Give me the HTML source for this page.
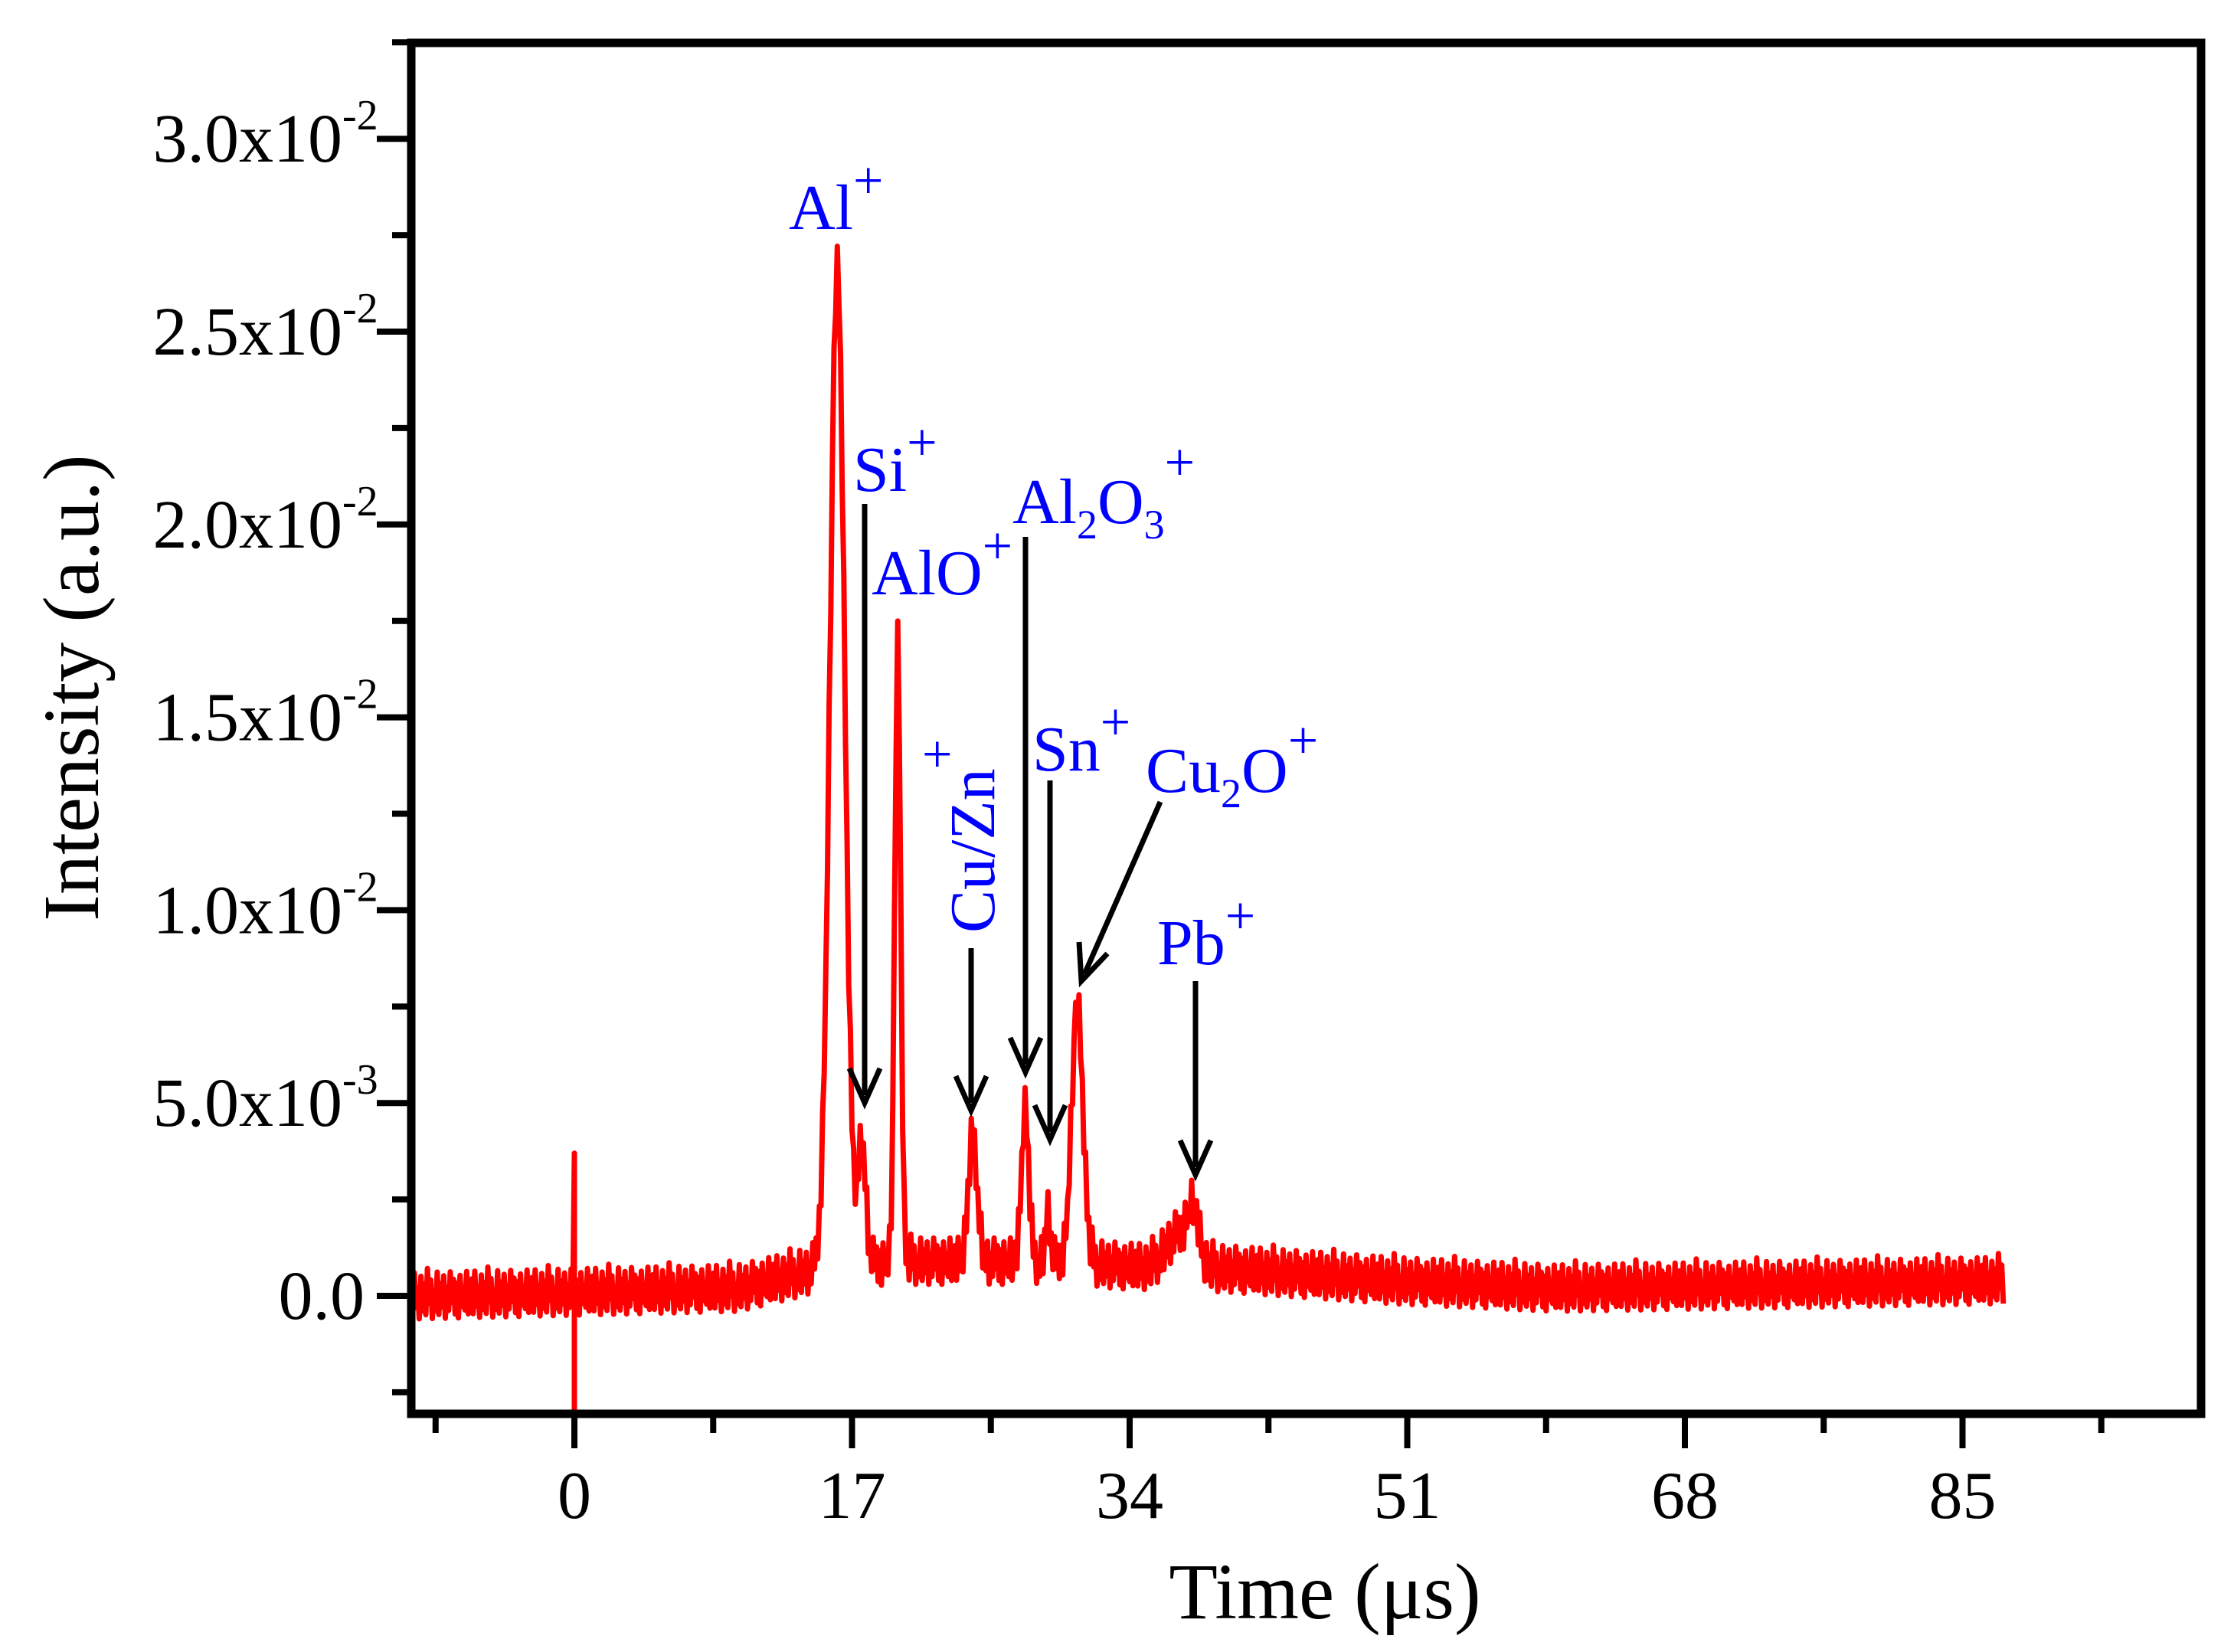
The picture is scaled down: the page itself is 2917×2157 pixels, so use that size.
<!DOCTYPE html>
<html><head><meta charset="utf-8">
<style>
html,body{margin:0;padding:0;background:#fff;}
svg{display:block;}
text{font-family:"Liberation Serif",serif;}
</style></head>
<body>
<svg id="chart" width="2917" height="2157" viewBox="0 0 2917 2157" xmlns="http://www.w3.org/2000/svg">
<defs><clipPath id="plotClip"><rect x="537" y="56" width="2337" height="1790"/></clipPath></defs>
<rect x="0" y="0" width="2917" height="2157" fill="#fff"/>
<g id="series" clip-path="url(#plotClip)"></g>
<g id="axes"></g>
<g id="annotations">
  <g fill="#0000ff" font-size="84">
    <text x="1030" y="299">Al<tspan dy="-40" font-size="70">+</tspan></text>
    <text x="1114" y="641">Si<tspan dy="-40" font-size="70">+</tspan></text>
    <text x="1138" y="776">AlO<tspan dy="-40" font-size="70">+</tspan></text>
    <text x="1322" y="683">Al<tspan dy="20" font-size="54">2</tspan><tspan dy="-20">O</tspan><tspan dy="20" font-size="54">3</tspan><tspan dy="-76" font-size="70">+</tspan></text>
    <text x="1348" y="1006">Sn<tspan dy="-40" font-size="70">+</tspan></text>
    <text x="1496" y="1034">Cu<tspan dy="20" font-size="54">2</tspan><tspan dy="-20">O</tspan><tspan dy="-44" font-size="70">+</tspan></text>
    <text x="1511" y="1259">Pb<tspan dy="-40" font-size="70">+</tspan></text>
    <text transform="translate(1298,1218) rotate(-90)">Cu/Zn</text>
    <text x="1204" y="1008" font-size="70">+</text>
  </g>
  <g stroke="#000" stroke-width="7" fill="none" stroke-linecap="butt">
    <line x1="1129" y1="658" x2="1129" y2="1430"/>
    <polyline points="1109,1395 1129,1440 1149,1395"/>
    <line x1="1268" y1="1238" x2="1268" y2="1440"/>
    <polyline points="1248,1405 1268,1450 1288,1405"/>
    <line x1="1339" y1="701" x2="1339" y2="1390"/>
    <polyline points="1319,1355 1339,1400 1359,1355"/>
    <line x1="1371" y1="1019" x2="1371" y2="1478"/>
    <polyline points="1351,1443 1371,1488 1391,1443"/>
    <line x1="1515" y1="1047" x2="1416" y2="1272"/>
    <polyline points="1409,1230 1412,1281 1446,1245"/>
    <line x1="1561" y1="1281" x2="1561" y2="1524"/>
    <polyline points="1541,1489 1561,1534 1581,1489"/>
  </g>
</g>
<text x="1730" y="2113" font-size="104" text-anchor="middle">Time (μs)</text>
<text transform="translate(128,898) rotate(-90)" font-size="104" text-anchor="middle">Intensity (a.u.)</text>
</svg>
<script>
// ---- chart data ----
const peakCenters = [16.1, 17.6, 19.8, 24.4, 27.6, 29.0, 30.8, 37.9, 37.0];
const peakHeights = [0.0258, 0.0030, 0.0160, 0.0032, 0.0040, 0.0013, 0.0066, 0.0012, 0.0009];
const peakWidths  = [0.45, 0.25, 0.18, 0.28, 0.22, 0.15, 0.35, 0.35, 0.8];
const baseTimes   = [-10, 10, 14, 15.5, 20, 30, 36, 40, 50, 60, 75, 87.5];
const baseValues  = [0.0000, 0.0002, 0.0006, 0.0008, 0.0009, 0.0009, 0.0007, 0.0007, 0.0004, 0.0002, 0.0003, 0.0004];
const noiseValues = [0.0004,-0.0005,0.0006,-0.0003,0.0002,-0.0006,0.0005,-0.0004,0.0003,-0.0005,0.0007,-0.0002,0.0004,-0.0006,0.0001,-0.0004,0.0006,-0.0005,0.0003,-0.0003,0.0005,-0.0006,0.0002,-0.0004,0.0006,-0.0002,0.0004,-0.0005,0.0003,-0.0006,0.0005,-0.0003,0.0001,-0.0004,0.0006,-0.0005,0.0002];
const spikeTime = 0;
const spikeValues = [0.0037, -0.0040];
const xTickValues = [0, 17, 34, 51, 68, 85];
const xTickLabels = ["0", "17", "34", "51", "68", "85"];
const yTickValues = [0, 0.005, 0.01, 0.015, 0.02, 0.025, 0.03];
const yTickMant = ["0.0", "5.0", "1.0", "1.5", "2.0", "2.5", "3.0"];
const yTickExp = ["", "-3", "-2", "-2", "-2", "-2", "-2"];

// ---- scales ----
const X0 = 750, XPER = 362.5/17;
const Y0 = 1692, YPER = 251.8/0.005;
const L = 537, R = 2874, T = 56, B = 1846;
function sx(t){ return X0 + t*XPER; }
function sy(v){ return Y0 - v*YPER; }
const NS = "http://www.w3.org/2000/svg";
function mk(tag, attrs){ const e=document.createElementNS(NS,tag); for(const k in attrs) e.setAttribute(k,attrs[k]); return e; }

function baseline(t){
  for(let i=0;i<baseTimes.length-1;i++){
    if(t>=baseTimes[i] && t<=baseTimes[i+1]){
      const f=(t-baseTimes[i])/(baseTimes[i+1]-baseTimes[i]);
      return baseValues[i]+f*(baseValues[i+1]-baseValues[i]);
    }
  }
  return baseValues[baseValues.length-1];
}
function signal(t, k){
  let v = baseline(t) + noiseValues[k % noiseValues.length];
  for(let i=0;i<peakCenters.length;i++){
    const d=(t-peakCenters[i])/peakWidths[i];
    v += peakHeights[i]*Math.exp(-0.5*d*d);
  }
  return v;
}

// ---- series ----
const series = document.getElementById('series');
let pts = [];
let k = 0;
for(let t=-10; t<=87.5; t+=0.1, k++){
  if(Math.abs(t-spikeTime) < 0.05){
    pts.push(sx(spikeTime).toFixed(1)+","+sy(spikeValues[0]).toFixed(1));
    pts.push(sx(spikeTime).toFixed(1)+","+sy(spikeValues[1]).toFixed(1));
  }
  pts.push(sx(t).toFixed(1)+","+sy(signal(t,k)).toFixed(1));
}
const line = mk('polyline',{points:pts.join(' '),fill:'none',stroke:'#ff0000','stroke-width':7,'stroke-linejoin':'round'});


series.appendChild(line);

// ---- axes ----
const axes = document.getElementById('axes');
const frame = mk('rect',{x:L,y:T,width:R-L,height:B-T,fill:'none',stroke:'#000','stroke-width':11});


axes.appendChild(frame);

for(let v=-8.5; v<=95; v+=8.5){
  const major = xTickValues.indexOf(Math.round(v*10)/10) >= 0;
  const tk = mk('line',{x1:sx(v),x2:sx(v),y1:B,y2:B+(major?45:25),stroke:'#000','stroke-width':8});
  
  
  axes.appendChild(tk);
}
xTickValues.forEach((v,i)=>{
  const tx = mk('text',{x:sx(v),y:1982,'font-size':88,'text-anchor':'middle'});
  tx.textContent = xTickLabels[i];
  
  
  axes.appendChild(tx);
});
for(let v=-0.0025; v<=0.0326; v+=0.0025){
  const major = Math.abs(Math.round(v/0.005)*0.005 - v) < 1e-6 && v > -0.001;
  const tk = mk('line',{x1:L-(major?45:25),x2:L,y1:sy(v),y2:sy(v),stroke:'#000','stroke-width':8});
  
  
  axes.appendChild(tk);
}
yTickValues.forEach((v,i)=>{
  const tx = mk('text',{x:yTickExp[i]?447:476,y:sy(v)+30,'font-size':90,'text-anchor':'end'});
  tx.textContent = yTickMant[i] + (yTickExp[i] ? "x10" : "");
  
  
  axes.appendChild(tx);
  if(yTickExp[i]){
    const ex = mk('text',{x:447,y:sy(v)-12,'font-size':56});
    ex.textContent = yTickExp[i];
    
    
    axes.appendChild(ex);
  }
});
</script>
</body></html>
